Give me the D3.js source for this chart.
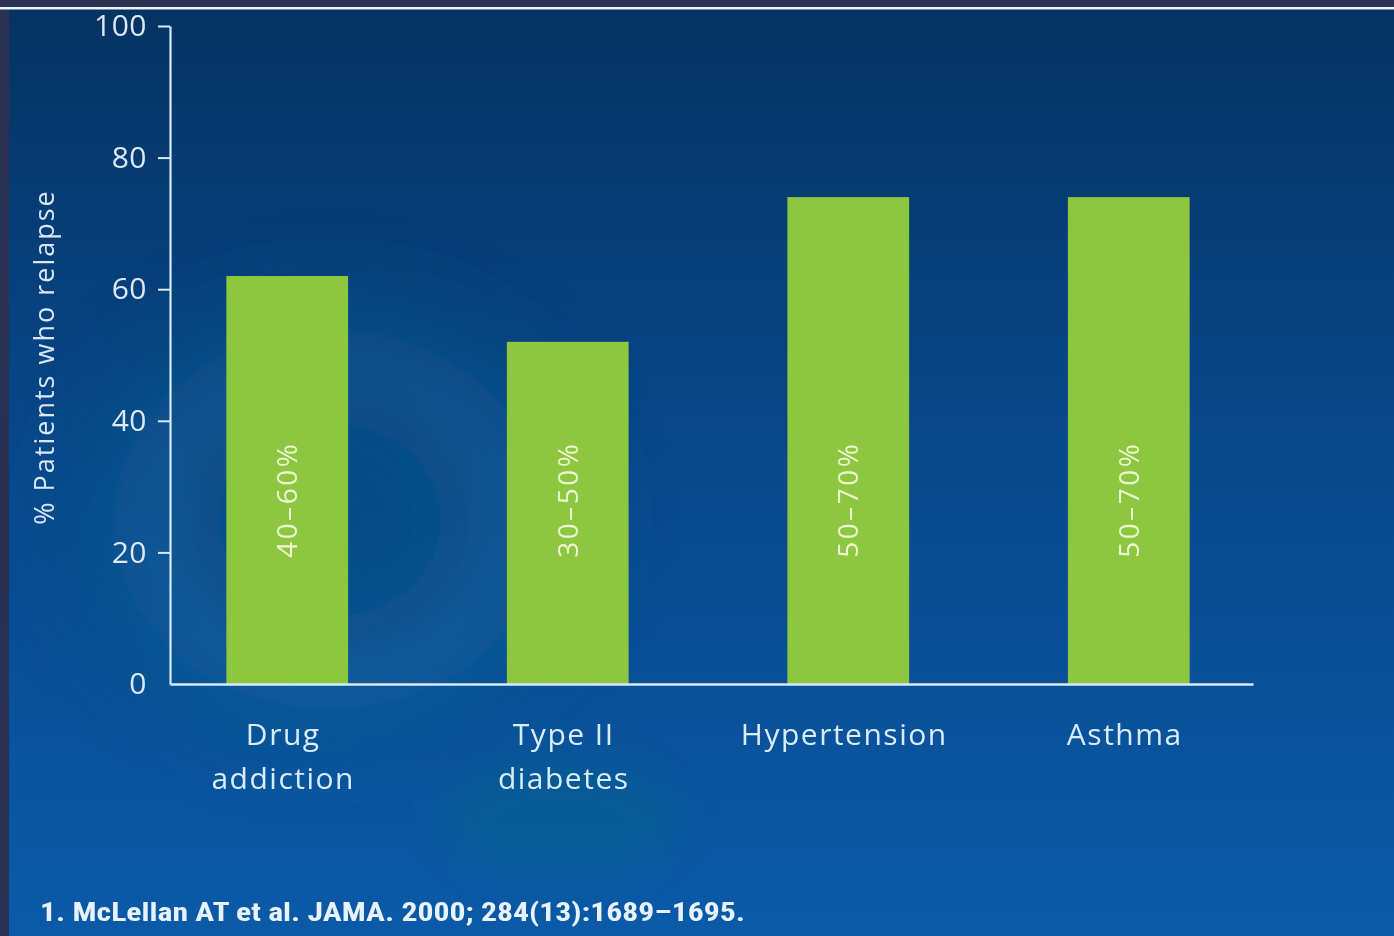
<!DOCTYPE html>
<html><head><meta charset="utf-8">
<script src="https://cdn.jsdelivr.net/npm/d3@7"></script>
<style>html,body{margin:0;padding:0;background:#2b3152;overflow:hidden}</style>
</head><body>
<script>
const categories = [["Drug","addiction"],["Type II","diabetes"],["Hypertension"],["Asthma"]];
const values = [62, 52, 74, 74];
const rangeLabels = ["40–60%","30–50%","50–70%","50–70%"];
const yTicks = [0,20,40,60,80,100];
const yTitle = "% Patients who relapse";
const footnote = "1. McLellan AT et al. JAMA. 2000; 284(13):1689–1695.";

const W=1394,H=936;
const svg=d3.select("body").append("svg").attr("width",W).attr("height",H);
const defs=svg.append("defs");
const g1=defs.append("linearGradient").attr("id","bg").attr("x1",0).attr("y1",0).attr("x2",0).attr("y2",1);
g1.append("stop").attr("offset","0%").attr("stop-color","#053363");
g1.append("stop").attr("offset","45%").attr("stop-color","#084789");
g1.append("stop").attr("offset","100%").attr("stop-color","#0b5aa8");
const rg=defs.append("radialGradient").attr("id","swirl");
rg.append("stop").attr("offset","0%").attr("stop-color","#1a6a9a").attr("stop-opacity",0.0);
rg.append("stop").attr("offset","55%").attr("stop-color","#2a7aa8").attr("stop-opacity",0.25);
rg.append("stop").attr("offset","75%").attr("stop-color","#0a5a80").attr("stop-opacity",0.18);
rg.append("stop").attr("offset","100%").attr("stop-color","#0a4a80").attr("stop-opacity",0);
const bl=defs.append("filter").attr("id","blur").attr("x","-50%").attr("y","-50%").attr("width","200%").attr("height","200%");
bl.append("feGaussianBlur").attr("stdDeviation",18);

// frame
svg.append("rect").attr("x",0).attr("y",0).attr("width",W).attr("height",H).attr("fill","#2b3152");
svg.append("rect").attr("x",9).attr("y",9).attr("width",W-9).attr("height",H-9).attr("fill","url(#bg)");
// faint background swirl
const deco=svg.append("g").attr("filter","url(#blur)");
deco.append("ellipse").attr("cx",330).attr("cy",520).attr("rx",330).attr("ry",290).attr("fill","url(#swirl)");
deco.append("ellipse").attr("cx",330).attr("cy",520).attr("rx",150).attr("ry",140).attr("fill","#0a4d7a").attr("opacity",0.3);
deco.append("ellipse").attr("cx",560).attr("cy",820).attr("rx",120).attr("ry",60).attr("fill","#0b6a80").attr("opacity",0.3);
svg.append("rect").attr("x",0).attr("y",7).attr("width",W).attr("height",2.5).attr("fill","#e8f2fb");

const y=d3.scaleLinear().domain([0,100]).range([684,26]);
const x=d3.scaleBand().domain(d3.range(categories.length)).range([145,1271]).paddingInner(0.566).paddingOuter(0.29);

const axisColor="#d6ebfb";
const font="'Open Sans', 'Noto Sans', sans-serif";

// bars
svg.selectAll("rect.bar").data(values).join("rect").attr("class","bar")
  .attr("x",(d,i)=>x(i)).attr("width",x.bandwidth())
  .attr("y",d=>y(d)).attr("height",d=>y(0)-y(d)).attr("fill","#8dc63f");

// range labels inside bars
svg.selectAll("text.rl").data(rangeLabels).join("text").attr("class","rl")
  .attr("transform",(d,i)=>`translate(${x(i)+x.bandwidth()/2+10},${y(28)}) rotate(-90)`)
  .attr("text-anchor","middle").attr("font-family",font).attr("font-size",28).attr("letter-spacing",2.5)
  .attr("fill","#eef7d4").text(d=>d);

// y axis
const yAxis=svg.append("g").attr("transform","translate(170,0)")
  .call(d3.axisLeft(y).tickValues(yTicks).tickSize(12).tickPadding(11).tickSizeOuter(0));
yAxis.select(".domain").attr("stroke",axisColor).attr("stroke-width",2.2);
yAxis.selectAll(".tick line").attr("stroke",axisColor).attr("stroke-width",2);
yAxis.selectAll(".tick text").attr("fill","#dde9f6").attr("font-family",font).attr("font-size",30).attr("letter-spacing",0.5);
yAxis.selectAll(".tick").filter(d=>d===0).select("line").remove();

// x axis line
const xAxis=svg.append("g").attr("transform",`translate(0,${y(0)})`)
  .call(d3.axisBottom(d3.scaleLinear().domain([0,1]).range([170,1253])).tickValues([]).tickSizeOuter(0));
xAxis.select(".domain").attr("stroke",axisColor).attr("stroke-width",2.4);

// category labels
const cl=svg.selectAll("text.cat").data(categories).join("text").attr("class","cat")
  .attr("x",(d,i)=>x(i)+x.bandwidth()/2-4).attr("y",745)
  .attr("text-anchor","middle").attr("font-family",font).attr("font-size",30).attr("letter-spacing",1.5)
  .attr("fill","#d9ecfc");
cl.selectAll("tspan").data(d=>d).join("tspan")
  .attr("x",function(){return this.parentNode.getAttribute("x");})
  .attr("dy",(d,i)=>i===0?0:44).text(d=>d);

// y title
svg.append("text").attr("transform","translate(54,357) rotate(-90)")
  .attr("text-anchor","middle").attr("font-family",font).attr("font-size",27).attr("letter-spacing",2)
  .attr("fill","#d9e8f6").text(yTitle);

// footnote
svg.append("text").attr("x",40).attr("y",921).attr("font-family","'Liberation Sans Narrow','Roboto Condensed','Open Sans',sans-serif")
  .attr("font-weight","bold").attr("font-size",26).attr("fill","#e8f2fb")
  .attr("textLength",705).attr("lengthAdjust","spacingAndGlyphs").text(footnote);
</script>
</body></html>
